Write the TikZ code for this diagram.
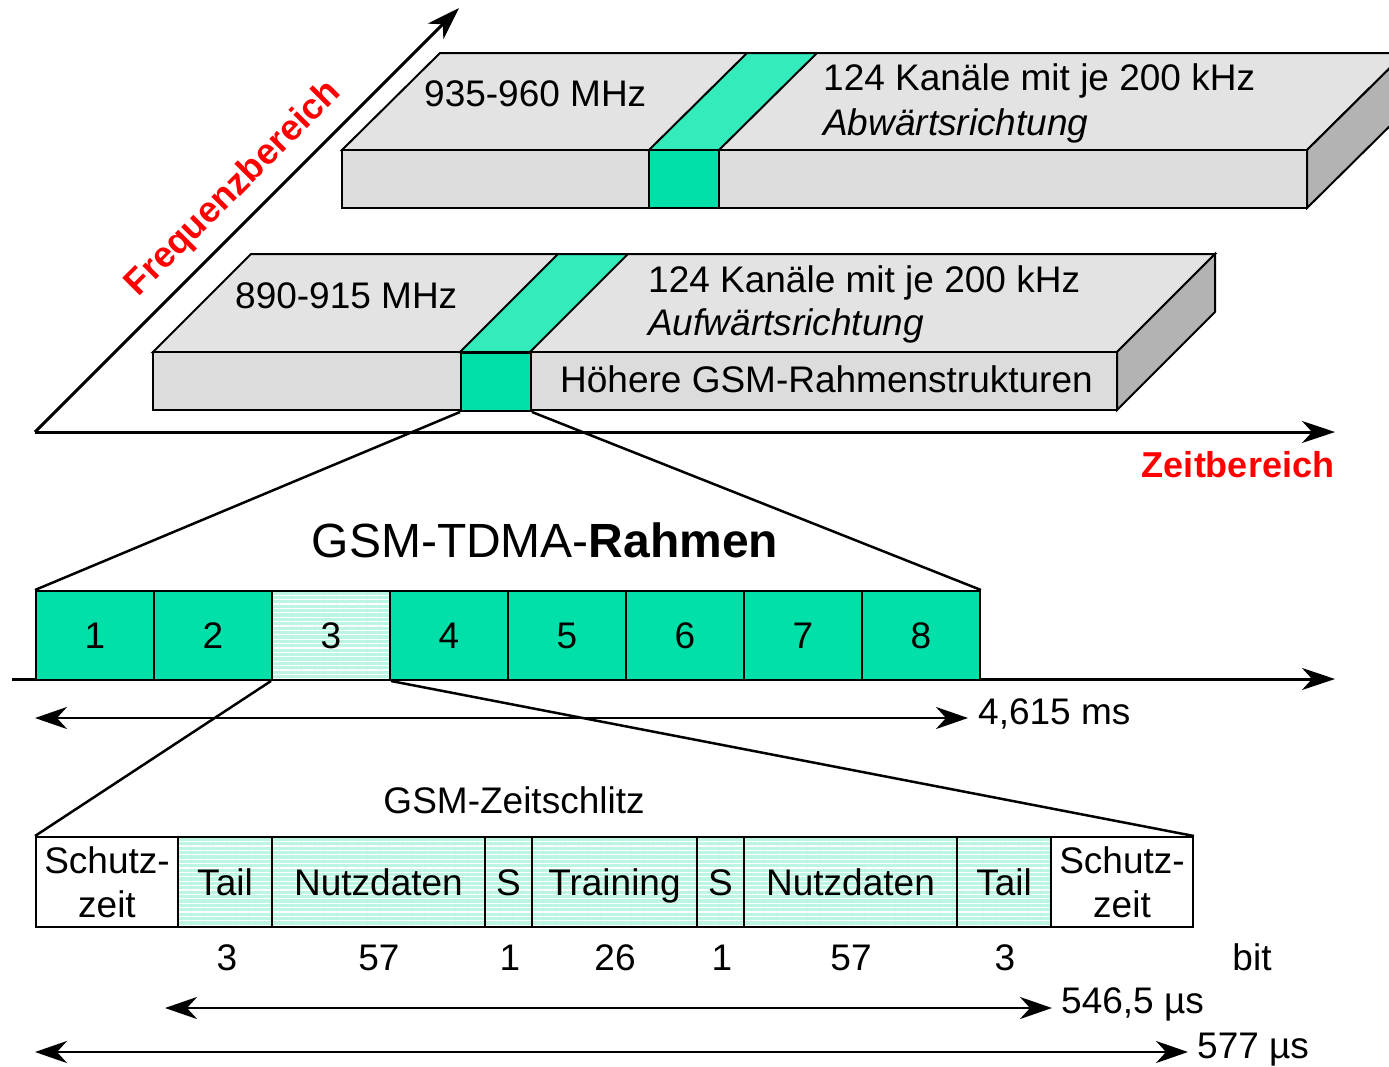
\documentclass[tikz,border=0pt]{standalone}
\usepackage{fontspec}
\setmainfont{Liberation Sans}
\usetikzlibrary{arrows.meta,patterns.meta}
\definecolor{topgray}{RGB}{227,227,227}
\definecolor{frontgray}{RGB}{220,220,220}
\definecolor{sidegray}{RGB}{179,179,179}
\definecolor{gfront}{RGB}{0,224,168}
\definecolor{gtop}{RGB}{51,235,187}
\definecolor{mint}{RGB}{188,245,227}
\definecolor{axred}{RGB}{255,0,0}
\begin{document}
\begin{tikzpicture}[x=1pt,y=-1pt,
  lab/.style={font=\fontsize{37}{44}\selectfont, inner sep=0pt},
  face/.style={draw=black, line width=2pt, line join=miter},
  zoomline/.style={line width=2.5pt},
  axis/.style={line width=3pt, -{Stealth[length=33pt,width=22pt,inset=10pt]}},
  dim/.style={line width=2.8pt, {Stealth[length=32pt,width=22pt,inset=10pt]}-{Stealth[length=32pt,width=22pt,inset=10pt]}},
  slotbox/.style={draw, line width=2pt, fill=gfront, minimum width=118pt, minimum height=89pt, inner sep=0pt, anchor=north west, font=\fontsize{37}{44}\selectfont},
  hatched/.style={fill=none, preaction={fill=mint}, preaction={pattern={Lines[angle=0,distance=4.4pt,line width=1.3pt]}, pattern color=white}},
  cell/.style={draw, line width=2pt, minimum height=90pt, inner sep=0pt, anchor=north west, font=\fontsize{37}{44}\selectfont, text height=26.5pt, text depth=0pt},
  gcell/.style={draw, line width=2pt, minimum height=90pt, inner sep=0pt, anchor=north west, font=\fontsize{37}{44}\selectfont, align=center},
]
\useasboundingbox (0,0) rectangle (1389,1066);

% axes
\coordinate (O) at (35,432);
\coordinate (fx) at (459,8);
\coordinate (tx) at (1335,432);
\draw[axis] (O) -- (fx);
\draw[axis] (O) -- (tx);
\node[font=\fontsize{36}{42}\selectfont\bfseries, text=axred, rotate=45, inner sep=0pt] (freq) at (234,189) {Frequenzbereich};
\node[font=\fontsize{36}{42}\selectfont\bfseries, text=axred, inner sep=0pt] (zeit) at (1238,465) {Zeitbereich};

% upper slab (downlink)
\fill[face, fill=topgray] (342,150) -- (440,53) -- (1405,53) -- (1307,150) -- cycle;
\fill[face, fill=frontgray] (342,150) rectangle (1307,208);
\fill[face, fill=sidegray] (1307,150) -- (1405,53) -- (1405,111) -- (1307,208) -- cycle;
\fill[face, fill=gtop] (649,150) -- (747,53) -- (817,53) -- (719,150) -- cycle;
\fill[face, fill=gfront] (649,150) rectangle (719,208);
\node[lab, anchor=base west] (f1) at (424,106) {935-960 MHz};
\node[lab, anchor=base west] (k1) at (823,90) {124 Kanäle mit je 200 kHz};
\node[lab, anchor=base west, font=\fontsize{37}{44}\selectfont\itshape] (r1) at (823,135) {Abwärtsrichtung};

% lower slab (uplink)
\fill[face, fill=topgray] (153,352) -- (251,254) -- (1215,254) -- (1117,352) -- cycle;
\fill[face, fill=frontgray] (153,352) rectangle (1117,410);
\fill[face, fill=sidegray] (1117,352) -- (1215,254) -- (1215,312) -- (1117,410) -- cycle;
\fill[face, fill=gtop] (460,352) -- (558,254) -- (628,254) -- (530,352) -- cycle;
\node[draw, line width=2pt, fill=gfront, minimum width=70pt, minimum height=58pt, inner sep=0pt, anchor=north west] (band) at (460,352) {};
\node[lab, anchor=base west] (f2) at (235,308) {890-915 MHz};
\node[lab, anchor=base west] (k2) at (648,292) {124 Kanäle mit je 200 kHz};
\node[lab, anchor=base west, font=\fontsize{37}{44}\selectfont\itshape] (r2) at (648,335) {Aufwärtsrichtung};
\node[lab, anchor=base west] (hr) at (560,392) {Höhere GSM-Rahmenstrukturen};

% TDMA frame
\node[font=\fontsize{48}{56}\selectfont, inner sep=0pt, anchor=base] (title) at (545,557) {GSM-TDMA-\textbf{Rahmen}};
\coordinate (t0) at (12,679);
\coordinate (t1) at (1335,679);
\draw[axis] (t0) -- (t1);
\node[slotbox] (s1) at (35,590) {1};
\node[slotbox] (s2) at (153,590) {2};
\node[slotbox, hatched] (s3) at (271,590) {3};
\node[slotbox] (s4) at (389,590) {4};
\node[slotbox] (s5) at (507,590) {5};
\node[slotbox] (s6) at (625,590) {6};
\node[slotbox] (s7) at (743,590) {7};
\node[slotbox] (s8) at (861,590) {8};
\draw[zoomline] (band.south west) -- (s1.north west);
\draw[zoomline] (band.south east) -- (s8.north east);

\coordinate (fa) at (35,718);
\coordinate (fb) at (968,718);
\draw[dim] (fa) -- (fb);
\node[lab, anchor=base west] (fl) at (978,724) {4,615 ms};

% time slot
\node[lab, anchor=base] (zs) at (514,813) {GSM-Zeitschlitz};
\node[gcell, minimum width=142pt] (c1) at (35,836) {Schutz-\\zeit};
\node[cell, hatched, minimum width=94pt] (c2) at (177,836) {Tail};
\node[cell, hatched, minimum width=213pt] (c3) at (271,836) {Nutzdaten};
\node[cell, hatched, minimum width=47pt] (c4) at (484,836) {S};
\node[cell, hatched, minimum width=165pt] (c5) at (531,836) {Training};
\node[cell, hatched, minimum width=47pt] (c6) at (696,836) {S};
\node[cell, hatched, minimum width=213pt] (c7) at (743,836) {Nutzdaten};
\node[cell, hatched, minimum width=94pt] (c8) at (956,836) {Tail};
\node[gcell, minimum width=142pt] (c9) at (1050,836) {Schutz-\\zeit};
\draw[zoomline] (s3.south west) -- (c1.north west);
\draw[zoomline] (s3.south east) -- (c9.north east);

\node[lab, anchor=base] (n2) at (227,970) {3};
\node[lab, anchor=base] (n3) at (379,970) {57};
\node[lab, anchor=base] (n4) at (510,970) {1};
\node[lab, anchor=base] (n5) at (615,970) {26};
\node[lab, anchor=base] (n6) at (722,970) {1};
\node[lab, anchor=base] (n7) at (851,970) {57};
\node[lab, anchor=base] (n8) at (1005,970) {3};
\node[lab, anchor=base] (bit) at (1252,970) {bit};

\coordinate (ua) at (165,1008);
\coordinate (ub) at (1052,1008);
\draw[dim] (ua) -- (ub);
\node[lab, anchor=base west] (ul) at (1061,1013) {546,5 µs};
\coordinate (va) at (35,1052);
\coordinate (vb) at (1188,1052);
\draw[dim] (va) -- (vb);
\node[lab, anchor=base west] (vl) at (1197,1058) {577 µs};
\end{tikzpicture}
\end{document}
